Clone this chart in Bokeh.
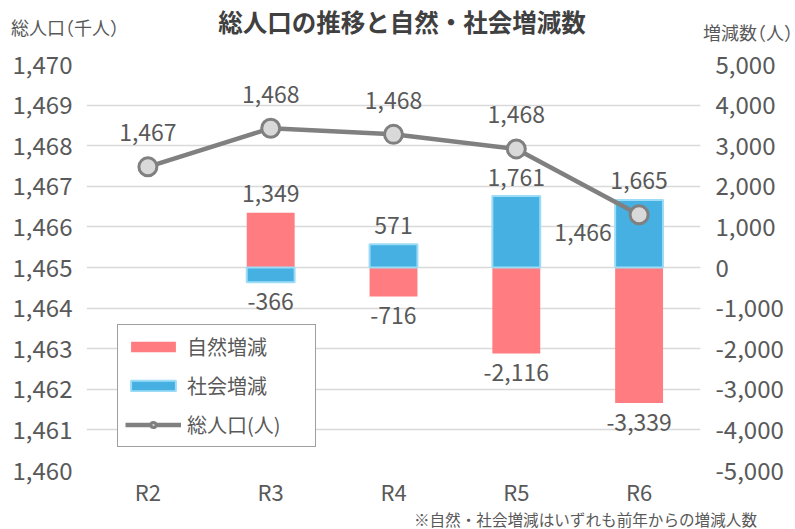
from bokeh.plotting import figure
from bokeh.layouts import column
from bokeh.models import (Range1d, LinearAxis, FactorRange, FixedTicker, NumeralTickFormatter,
                          Legend, LegendItem, ColumnDataSource, Div)
from bokeh.core.properties import value
from bokeh.embed import file_html
from bokeh.resources import INLINE

# ---- data ----
years = ["R2", "R3", "R4", "R5", "R6"]
population = [1467.48, 1468.43, 1468.28, 1467.92, 1466.30]   # 総人口 (千人)
bar_years = ["R3", "R4", "R5", "R6"]
natural = [1349, -716, -2116, -3339]    # 自然増減 (人)
social = [-366, 571, 1761, 1665]        # 社会増減 (人)
left_ticks = [1460, 1461, 1462, 1463, 1464, 1465, 1466, 1467, 1468, 1469, 1470]
right_ticks = [-5000, -4000, -3000, -2000, -1000, 0, 1000, 2000, 3000, 4000, 5000]
title = "総人口の推移と自然・社会増減数"
left_title = "総人口（千人）"
right_title = "増減数（人）"
note = "※自然・社会増減はいずれも前年からの増減人数"

FONT = "Noto Sans CJK JP"
TXT = "#595959"
RED = "#ff7c80"
BLUE = "#45b0e1"
BLUE_EDGE = "#9ddcf6"
GRAY = "#808080"

W = 795
HEAD_H = 44
FOOT_H = 20
FIG_H = 529 - HEAD_H - FOOT_H

p = figure(width=W, height=FIG_H, x_range=FactorRange(*years, range_padding=0),
           y_range=Range1d(left_ticks[0], left_ticks[-1]),
           output_backend="svg", toolbar_location=None,
           min_border_left=86, min_border_right=95, min_border_top=20, min_border_bottom=39)
p.outline_line_color = None
p.background_fill_color = "white"
p.extra_y_ranges = {"right": Range1d(right_ticks[0], right_ticks[-1])}

def style_axis(ax, size="24px"):
    ax.axis_line_color = None
    ax.major_tick_line_color = None
    ax.minor_tick_line_color = None
    ax.major_tick_out = 0
    ax.major_tick_in = 0
    ax.minor_tick_out = 0
    ax.major_label_text_font = FONT
    ax.major_label_text_font_size = size
    ax.major_label_text_color = TXT

p.yaxis.ticker = FixedTicker(ticks=left_ticks)
p.yaxis.formatter = NumeralTickFormatter(format="0,0")
style_axis(p.yaxis[0])
p.yaxis.major_label_standoff = 14

raxis = LinearAxis(y_range_name="right", ticker=FixedTicker(ticks=right_ticks),
                   formatter=NumeralTickFormatter(format="0,0"))
style_axis(raxis)
raxis.major_label_standoff = 15
p.add_layout(raxis, "right")

style_axis(p.xaxis[0], "22px")
p.xaxis.major_label_standoff = 4

p.xgrid.grid_line_color = None
p.ygrid.grid_line_color = "#d9d9d9"
p.ygrid.grid_line_width = 1.5
p.ygrid.ticker = FixedTicker(ticks=left_ticks)

# bars
bsrc = ColumnDataSource(dict(
    x=bar_years, nat=natural, soc=social,
    nat_lab=[f"{v:,}" for v in natural], soc_lab=[f"{v:,}" for v in social],
    nat_off=[-19 if v > 0 else 19 for v in natural],
    soc_off=[-19 if v > 0 else 19 for v in social],
))
r_nat = p.vbar(x="x", top="nat", bottom=0, width=0.39, source=bsrc, y_range_name="right",
               fill_color=RED, line_color=None)
r_soc = p.vbar(x="x", top="soc", bottom=0, width=0.39, source=bsrc, y_range_name="right",
               fill_color=BLUE, line_color=BLUE_EDGE, line_width=2)

for col, lab_col, off in (("nat", "nat_lab", "nat_off"), ("soc", "soc_lab", "soc_off")):
    p.text(x="x", y=col, text=lab_col, y_offset=off, source=bsrc, y_range_name="right",
           text_font=value(FONT), text_font_size="23px", text_color=TXT,
           text_align="center", text_baseline="middle")

# population line
n = len(years)
lsrc = ColumnDataSource(dict(
    x=years, y=population,
    lab=[f"{round(v):,}" for v in population],
    xo=[0] * (n - 1) + [-56],
    yo=[-34] * (n - 1) + [18],
))
r_line = p.line(x="x", y="y", source=lsrc, line_color=GRAY, line_width=4.5)
r_pts = p.scatter(x="x", y="y", source=lsrc, size=18, marker="circle",
                  fill_color="#d9d9d9", line_color=GRAY, line_width=3)
p.text(x="x", y="y", text="lab", x_offset="xo", y_offset="yo", source=lsrc,
       text_font=value(FONT), text_font_size="23px", text_color=TXT,
       text_align="center", text_baseline="middle")

# legend
legend = Legend(items=[
    LegendItem(label="自然増減", renderers=[r_nat]),
    LegendItem(label="社会増減", renderers=[r_soc]),
    LegendItem(label="総人口(人)", renderers=[r_line, r_pts]),
], location=(31, 23))
legend.border_line_color = "#404040"
legend.border_line_width = 1
legend.background_fill_color = "white"
legend.background_fill_alpha = 1
legend.label_text_font = FONT
legend.label_text_font_size = "20px"
legend.label_text_color = TXT
legend.glyph_width = 56
legend.glyph_height = 13
legend.label_height = 20
legend.label_width = 121
legend.spacing = 10
legend.padding = 7
legend.label_standoff = 6
legend.margin = 0
p.add_layout(legend, "center")

# header and footer texts
head_html = (
    f'<div style="position:relative;width:{W}px;height:{HEAD_H}px;font-family:\'{FONT}\';color:{TXT};">'
    f'<span style="position:absolute;left:11px;top:17px;font-size:18px;line-height:20px;'
    f'font-feature-settings:\'halt\';white-space:nowrap;">{left_title}</span>'
    f'<span style="position:absolute;left:0px;width:804px;top:8px;text-align:center;font-size:24.5px;'
    f'font-weight:bold;line-height:28px;color:#404040;white-space:nowrap;">{title}</span>'
    f'<span style="position:absolute;right:2px;top:22px;font-size:18px;line-height:20px;'
    f'font-feature-settings:\'halt\';white-space:nowrap;">{right_title}</span>'
    '</div>'
)
foot_html = (
    f'<div style="position:relative;width:{W}px;height:{FOOT_H}px;font-family:\'{FONT}\';color:{TXT};">'
    f'<span style="position:absolute;right:38px;top:0px;font-size:15.6px;line-height:20px;white-space:nowrap;">{note}</span>'
    '</div>'
)
head = Div(text=head_html, width=W, height=HEAD_H, margin=0)
foot = Div(text=foot_html, width=W, height=FOOT_H, margin=0)

layout = column(head, p, foot, spacing=0)
open("out.html", "w").write(file_html(layout, INLINE))
